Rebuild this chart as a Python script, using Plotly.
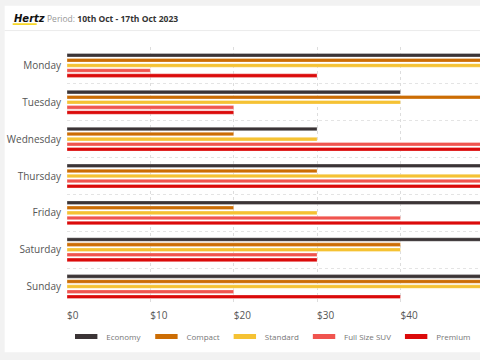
import plotly.graph_objects as go

days = ["Monday", "Tuesday", "Wednesday", "Thursday", "Friday", "Saturday", "Sunday"]
economy = [50, 40, 30, 50, 50, 50, 50]
compact = [50, 50, 20, 30, 20, 40, 50]
standard = [50, 40, 30, 50, 30, 40, 50]
full_size_suv = [10, 20, 50, 50, 40, 30, 20]
premium = [30, 20, 50, 50, 50, 30, 40]

series_names = ["Economy", "Compact", "Standard", "Full Size SUV", "Premium"]
series_values = [economy, compact, standard, full_size_suv, premium]
colors = ["#3b3436", "#cc6d04", "#f5c233", "#f0544f", "#db0a0a"]
x_ticks = [0, 10, 20, 30, 40, 50, 60]
x_tick_labels = ["$0", "$10", "$20", "$30", "$40", "$50", "$60"]

FONT = "Open Sans"

fig = go.Figure()
for name, vals, col in zip(series_names, series_values, colors):
    fig.add_trace(go.Bar(
        y=days, x=vals, name=name, orientation="h",
        marker=dict(color=col, line=dict(color="rgba(255,255,255,0.5)", width=0.6)),
        showlegend=False,
    ))
for name, col in zip(series_names, colors):
    fig.add_trace(go.Scatter(
        x=[None], y=[None], mode="markers", name=name,
        marker=dict(symbol="line-ew", size=16, color=col,
                    line=dict(width=5, color=col)),
    ))

W, H = 480, 360
L, T, B = 67.3, 46.5, 54.5
PH = H - T - B
PW = W - L
fig.update_layout(
    width=W, height=H,
    margin=dict(l=L, r=0, t=T, b=B, pad=0, autoexpand=False),
    paper_bgcolor="#f2f2f2",
    plot_bgcolor="rgba(0,0,0,0)",
    barmode="group",
    bargap=0.31,
    bargroupgap=0.3,
    font=dict(family=FONT, color="#666666"),
    xaxis=dict(
        range=[0, PW / 83.3 * 10],
        tickvals=x_ticks, ticktext=x_tick_labels,
        showgrid=True, gridcolor="#dddddd", griddash="dot", gridwidth=1,
        zeroline=False, showline=False, automargin=False,
        tickfont=dict(size=10, color="#555555"),
        ticks="", ticklen=0, ticklabelstandoff=3,
        ticklabelposition="outside right",
    ),
    yaxis=dict(
        type="category", autorange="reversed",
        tickson="boundaries", automargin=False,
        showgrid=True, gridcolor="#e4e4e4", griddash="dot", gridwidth=1,
        ticks="", ticklen=0, ticklabelstandoff=5,
        tickfont=dict(size=10, color="#555555"),
        showline=False, zeroline=False,
    ),
    legend=dict(
        orientation="h", xref="container", yref="container",
        x=0.565, xanchor="center",
        y=(H - 336.5) / H, yanchor="middle",
        font=dict(size=8, color="#777777", family=FONT),
        bgcolor="rgba(0,0,0,0)",
        itemsizing="trace",
    ),
    shapes=[
        dict(type="rect", xref="paper", yref="paper",
             x0=-(L - 5) / PW, x1=1.05,
             y0=-(353 - 305.5) / PH, y1=1 + (T - 5) / PH,
             fillcolor="#ffffff", line=dict(width=0), layer="below"),
        dict(type="line", xref="paper", yref="paper",
             x0=-(L - 5) / PW, x1=1.05,
             y0=1 + (T - 30) / PH, y1=1 + (T - 30) / PH,
             line=dict(color="#ebebeb", width=1), layer="below"),
        dict(type="line", xref="paper", yref="paper",
             x0=-(L - 13) / PW, x1=-(L - 37) / PW,
             y0=1 + (T - 23.5) / PH, y1=1 + (T - 23.5) / PH,
             line=dict(color="#f5d000", width=1.5)),
    ],
    annotations=[
        dict(text="<b><i>Hertz</i></b>", xref="paper", yref="paper",
             x=-(L - 12) / PW, y=1 + (T - 17.5) / PH,
             xanchor="left", yanchor="middle", showarrow=False,
             font=dict(family="DejaVu Sans", size=10, color="#111111")),
        dict(text="Period: <b><span style='color:#333333'>10th Oct - 17th Oct 2023</span></b>",
             xref="paper", yref="paper",
             x=-(L - 45) / PW, y=1 + (T - 18) / PH,
             xanchor="left", yanchor="middle", showarrow=False,
             font=dict(family=FONT, size=8.5, color="#999999")),
    ],
)

fig.write_html(
    "out.html",
    config={"displayModeBar": False},
    post_script="document.body.style.margin='0';document.body.style.overflow='hidden';",
)
